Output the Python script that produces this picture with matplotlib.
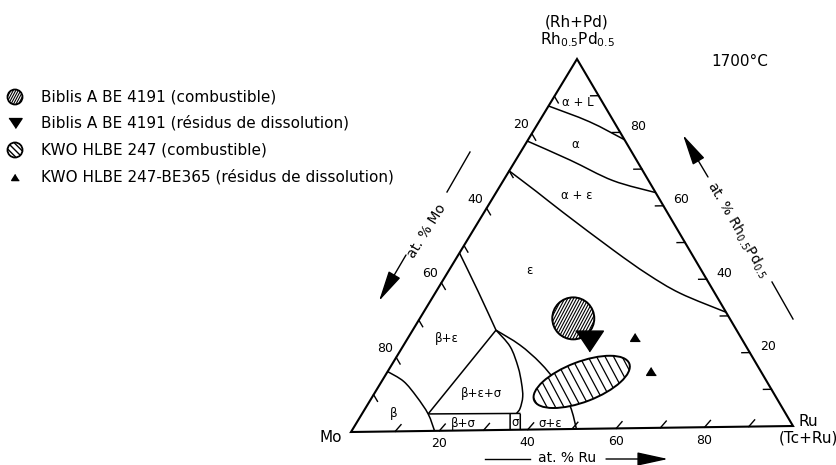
import numpy as np
import matplotlib
matplotlib.use("Agg")
import matplotlib.pyplot as plt
from matplotlib.patches import Circle, Ellipse, Polygon, PathPatch
from matplotlib.path import Path

plt.rcParams['font.family'] = ['DejaVu Sans']

# phase boundaries at 1700 C, points given as (at.% Ru, at.% Rh0.5Pd0.5)
liq_alpha = [(0, 87.4), (11.5, 83.0), (22, 78)]
alpha_alphaeps = [(0, 78), (12.4, 72.7), (25, 67.0), (36.4, 63.6)]
alphaeps_eps = [(0, 70), (9.1, 64.3), (18, 58.6), (34.7, 48.2),
                (45.8, 41.6), (55.9, 36.3), (69, 31)]
betaeps_eps = [(0, 48), (9.6, 37.5), (19, 27)]
betaeps_bes = [(19, 27), (15.1, 4.6)]
bes_betasig = [(15.1, 4.6), (36.1, 4.4)]
bes_sigeps = [(19, 27), (24.5, 22.5), (29.1, 17.0), (32.2, 12.5),
              (34.3, 8.9), (35.3, 5.8), (35.2, 4.4)]
eps_sigeps = [(19, 27), (26.5, 22.9), (33.6, 18.0), (40.2, 12.5),
              (46.4, 6.2), (51, 0)]
beta_line = [(0, 16.2), (5, 13.5), (10.1, 9.3), (15.1, 4.6), (18.9, 0)]
sigma_left = [(33.8, 4.3), (36.0, 0)]
sigma_right = [(36.1, 4.3), (38.3, 0)]
boundaries = [liq_alpha, alpha_alphaeps, alphaeps_eps, betaeps_eps, betaeps_bes,
              bes_betasig, bes_sigeps, eps_sigeps, beta_line, sigma_left, sigma_right]

# phase field names and where they sit
phase_names = ['α + L', 'α', 'α + ε', 'ε', 'β+ε', 'β+ε+σ', 'β', 'β+σ', 'σ', 'σ+ε']
phase_ru = [6.3, 11.4, 18.7, 18.4, 8.9, 24.5, 7.1, 24.4, 36.1, 44.2]
phase_rh = [88.2, 76.8, 63.2, 43.1, 25.0, 10.0, 4.9, 1.9, 1.9, 1.6]

# measured compositions
biblis_fuel = (35.0, 29.9)
biblis_residue = (41.7, 23.7)
kwo_fuel = (45.7, 12.7)
kwo_residue_ru = [51.7, 59.9]
kwo_residue_rh = [24.6, 15.5]

legend_labels = ['Biblis A BE 4191 (combustible)',
                 'Biblis A BE 4191 (résidus de dissolution)',
                 'KWO HLBE 247 (combustible)',
                 'KWO HLBE 247-BE365 (résidus de dissolution)']

tick_values = [10, 20, 30, 40, 50, 60, 70, 80, 90]
tick_labels = [20, 40, 60, 80]

# corners of the triangle on the canvas (pixels, y pointing down)
MO = np.array([351.0, 432.0])
RU = np.array([793.0, 426.0])
TOP = np.array([577.0, 59.0])


def tern(ru, rh):
    ru = np.atleast_1d(np.asarray(ru, float)) / 100.0
    rh = np.atleast_1d(np.asarray(rh, float)) / 100.0
    p = MO[:, None] + np.outer(RU - MO, ru) + np.outer(TOP - MO, rh)
    return p[0], p[1]


fig = plt.figure(figsize=(8.37, 4.65), dpi=100)
ax = fig.add_axes([0, 0, 1, 1])
ax.set_xlim(0, 837)
ax.set_ylim(465, 0)
ax.axis('off')


def smooth_path(x, y):
    # cubic Bezier segments through the points (Catmull-Rom tangents)
    p = np.column_stack([x, y])
    if len(p) < 3:
        return Path(p)
    q = np.vstack([p[0], p, p[-1]])
    verts = [p[0]]
    codes = [Path.MOVETO]
    for i in range(1, len(q) - 2):
        c1 = q[i] + (q[i + 1] - q[i - 1]) / 6.0
        c2 = q[i + 1] - (q[i + 2] - q[i]) / 6.0
        verts += [c1, c2, q[i + 1]]
        codes += [Path.CURVE4] * 3
    return Path(verts, codes)


def hatch(patch, cx, cy, extent, angle, step, lw, z):
    # parallel strokes clipped to the patch outline
    a = np.radians(angle)
    d = np.array([np.cos(a), -np.sin(a)])
    n = np.array([-d[1], d[0]])
    for off in np.arange(-extent, extent + step, step):
        p = np.array([cx, cy]) + off * n
        ln, = ax.plot([p[0] - extent * d[0], p[0] + extent * d[0]],
                      [p[1] - extent * d[1], p[1] + extent * d[1]],
                      color='k', lw=lw, solid_capstyle='butt', zorder=z)
        ln.set_clip_path(patch)


# outline of the triangle
cx, cy = tern([0, 100, 0], [0, 0, 100])
ax.add_patch(Polygon(np.column_stack([cx, cy]), closed=True, fill=False,
                     ec='k', lw=1.5, joinstyle='miter', zorder=3))

# ticks pointing inwards
tl = 1.8
for v in tick_values:
    x, y = tern([v, v + 0.4], [0, tl])
    ax.plot(x, y, color='k', lw=1.0)
    x, y = tern([0, tl], [100 - v, 100 - v - tl])
    ax.plot(x, y, color='k', lw=1.0)
    x, y = tern([100 - v, 100 - v - tl], [v, v])
    ax.plot(x, y, color='k', lw=1.0)

for v in tick_labels:
    x, y = tern(v, 0)
    ax.text(x[0], y[0] + 13, str(v), ha='center', va='center', fontsize=9)
    x, y = tern(0, 100 - v)
    ax.text(x[0] - 11, y[0] - 9, str(v), ha='center', va='center', fontsize=9)
    x, y = tern(100 - v, v)
    ax.text(x[0] + 18, y[0] - 6, str(v), ha='center', va='center', fontsize=9)

# phase boundaries
for b in boundaries:
    ru, rh = zip(*b)
    x, y = tern(ru, rh)
    ax.add_patch(PathPatch(smooth_path(x, y), fill=False, ec='k', lw=1.1, zorder=2))

for name, ru, rh in zip(phase_names, phase_ru, phase_rh):
    x, y = tern(ru, rh)
    ax.text(x[0], y[0], name, ha='center', va='center', fontsize=8.5)

# Biblis fuel: dense hatched disc
x, y = tern(*biblis_fuel)
disc = Circle((x[0], y[0]), 21, fc='white', ec='k', lw=1.4, zorder=4)
ax.add_patch(disc)
hatch(disc, x[0], y[0], 22, 62, 2.6, 0.8, 4.5)

# KWO fuel: hatched ellipse
x, y = tern(*kwo_fuel)
ell = Ellipse((x[0], y[0]), 102, 40, angle=-21, fc='white', ec='k', lw=1.4, zorder=4)
ax.add_patch(ell)
hatch(ell, x[0], y[0], 55, -62, 7.5, 0.9, 4.5)

# residues
down_tri = [(-1, 0.75), (1, 0.75), (0, -0.75)]
up_tri = [(0, 0.8), (-1, -0.8), (1, -0.8)]
x, y = tern(*biblis_residue)
ax.plot(x, y, ls='none', marker=down_tri, ms=20, color='k', zorder=6)
x, y = tern(kwo_residue_ru, kwo_residue_rh)
ax.plot(x, y, ls='none', marker=up_tri, ms=7, color='k', zorder=6)

# corner names
ax.text(577, 22, '(Rh+Pd)', ha='center', va='center', fontsize=11)
ax.text(577, 40, 'Rh$_{0.5}$Pd$_{0.5}$', ha='center', va='center', fontsize=11)
ax.text(342, 437, 'Mo', ha='right', va='center', fontsize=11)
ax.text(808, 421, 'Ru', ha='center', va='center', fontsize=11)
ax.text(808, 438, '(Tc+Ru)', ha='center', va='center', fontsize=11)
ax.text(740, 62, '1700°C', ha='center', va='center', fontsize=11)

# axis titles with arrows
arrow = dict(arrowstyle='-|>,head_length=1.6,head_width=0.35', color='k', lw=1.0,
             mutation_scale=12, shrinkA=0, shrinkB=0)
ax.text(567, 458, 'at. % Ru', ha='center', va='center', fontsize=10)
ax.plot([485, 530], [459, 459], color='k', lw=1.0)
ax.annotate('', xy=(668, 459), xytext=(606, 459), arrowprops=arrow)

ax.text(427, 231, 'at. % Mo', ha='center', va='center', fontsize=10, rotation=58)
ax.plot([447, 470], [192, 152], color='k', lw=1.0)
ax.annotate('', xy=(379, 301), xytext=(406, 255), arrowprops=arrow)

ax.text(738, 230, 'at. % Rh$_{0.5}$Pd$_{0.5}$', ha='center', va='center',
        fontsize=10, rotation=-60)
ax.plot([772, 793], [282, 319], color='k', lw=1.0)
ax.annotate('', xy=(683, 135), xytext=(708, 177), arrowprops=arrow)

# key
ky = [97, 123, 150, 177]
c1 = Circle((15, ky[0]), 7.5, fc='white', ec='k', lw=1.3)
ax.add_patch(c1)
hatch(c1, 15, ky[0], 9, 62, 2.2, 0.8, 2)
ax.plot(15, ky[1], ls='none', marker=down_tri, ms=9.5, color='k')
c3 = Circle((15, ky[2]), 7.5, fc='white', ec='k', lw=1.3)
ax.add_patch(c3)
hatch(c3, 15, ky[2], 9, -45, 4.5, 1.0, 2)
ax.plot(15, ky[3], ls='none', marker=up_tri, ms=5.5, color='k')
for yy, lab in zip(ky, legend_labels):
    ax.text(41, yy, lab, ha='left', va='center', fontsize=11)

fig.savefig('out.png', dpi=100)
